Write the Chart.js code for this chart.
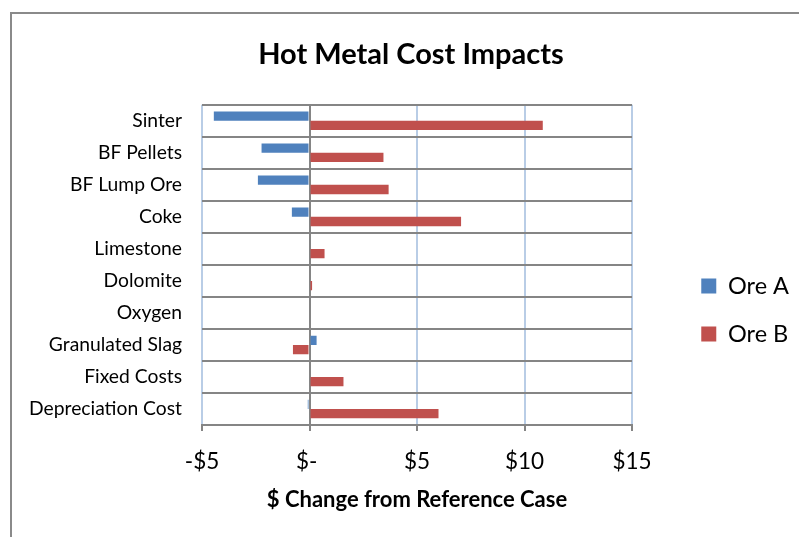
<!DOCTYPE html>
<html>
<head>
<meta charset="utf-8">
<script src="https://cdn.jsdelivr.net/npm/chart.js@4/dist/chart.umd.min.js"></script>
<style>
  html, body { margin: 0; padding: 0; background: #ffffff; }
  #wrap { width: 799px; height: 537px; }
</style>
</head>
<body>
<div id="wrap"><canvas id="chart" width="799" height="537"></canvas></div>
<script>
// Cost drivers, listed top to bottom
const categories = [
  'Sinter', 'BF Pellets', 'BF Lump Ore', 'Coke', 'Limestone',
  'Dolomite', 'Oxygen', 'Granulated Slag', 'Fixed Costs', 'Depreciation Cost'
];

// $ change from the reference case for each ore
const oreA = [-4.45, -2.23, -2.40, -0.82, 0, 0, 0, 0.33, 0, -0.08];
const oreB = [10.85, 3.44, 3.68, 7.05, 0.70, 0.12, 0, -0.77, 1.58, 6.00];

// Value axis ticks and their accounting-style labels
const xTickValues = [-5, 0, 5, 10, 15];
const xTickLabels = ['-$5', '$- ', '$5', '$10', '$15'];

const FONT = 'Lato, "Open Sans", sans-serif';
Chart.defaults.font.family = FONT;
Chart.defaults.color = '#000000';

// Thin grey frame around the chart
const framePlugin = {
  id: 'frame',
  beforeDraw(chart) {
    const c = chart.ctx;
    c.save();
    c.fillStyle = '#ffffff';
    c.fillRect(0, 0, chart.width, chart.height);
    c.strokeStyle = '#8a8a8a';
    c.lineWidth = 2;
    c.beginPath();
    c.moveTo(11, chart.height);
    c.lineTo(11, 13);
    c.lineTo(chart.width, 13);
    c.stroke();
    c.restore();
  }
};

new Chart(document.getElementById('chart'), {
  type: 'bar',
  data: {
    labels: categories,
    datasets: [
      { label: 'Ore A', data: oreA, backgroundColor: '#4f81bd', borderWidth: 0 },
      { label: 'Ore B', data: oreB, backgroundColor: '#c0504d', borderWidth: 0 }
    ]
  },
  options: {
    indexAxis: 'y',
    responsive: false,
    animation: false,
    categoryPercentage: 0.58,
    barPercentage: 1.0,
    layout: { padding: { left: 23, right: 0, top: 0, bottom: 0 } },
    plugins: {
      title: {
        display: true,
        text: 'Hot Metal Cost Impacts',
        font: { size: 29, weight: 'bold', family: FONT },
        color: '#000000',
        padding: { top: 37, bottom: 33 }
      },
      legend: {
        display: true,
        position: 'right',
        title: { display: true, text: ' ', font: { size: 10 }, padding: { top: 71, bottom: 0 } },
        labels: {
          boxWidth: 15,
          boxHeight: 15,
          padding: 24.5,
          font: { size: 23.5, family: FONT },
          color: '#000000'
        }
      },
      tooltip: { enabled: false }
    },
    scales: {
      x: {
        type: 'linear',
        min: -5,
        max: 15,
        afterBuildTicks(scale) {
          scale.ticks = xTickValues.map(v => ({ value: v }));
        },
        ticks: {
          padding: 17,
          font: { size: 22.5, family: FONT },
          color: '#000000',
          callback(value) {
            const i = xTickValues.indexOf(value);
            return i >= 0 ? xTickLabels[i] : '';
          }
        },
        grid: {
          color: ctx => (ctx.tick && ctx.tick.value === 0) ? '#858585' : '#b9cde6',
          lineWidth: 2,
          tickColor: '#858585',
          tickLength: 6
        },
        border: { display: true, color: '#858585', width: 2 },
        title: {
          display: true,
          text: '$ Change from Reference Case',
          font: { size: 22, weight: 'bold', family: FONT },
          color: '#000000',
          padding: { top: 0, bottom: 24 }
        },
        afterFit(scale) { scale.height = 112; }
      },
      y: {
        type: 'category',
        ticks: {
          padding: 20,
          font: { size: 19.3, family: FONT },
          color: '#000000'
        },
        grid: {
          color: '#858585',
          lineWidth: 2,
          drawTicks: false
        },
        border: { display: false },
        afterFit(scale) { scale.width = 179; }
      },
      spacer: {
        type: 'category',
        position: 'right',
        display: true,
        ticks: { display: false },
        grid: { display: false },
        border: { display: false },
        afterFit(scale) {
          const legendW = scale.chart.legend ? scale.chart.legend.width : 0;
          scale.width = Math.max(0, 799 - 632 - legendW);
        }
      }
    }
  },
  plugins: [framePlugin]
});
</script>
</body>
</html>
